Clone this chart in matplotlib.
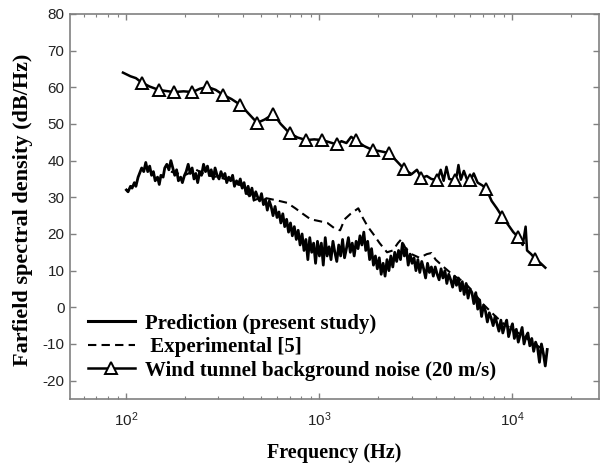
import numpy as np
import matplotlib
matplotlib.use("Agg")
import matplotlib.pyplot as plt
from matplotlib.lines import Line2D
from matplotlib.ticker import LogLocator, NullFormatter, MultipleLocator

plt.rcParams['font.family'] = ['Liberation Sans', 'DejaVu Sans']
plt.rcParams['mathtext.default'] = 'regular'
plt.rcParams['axes.unicode_minus'] = False

# prediction (present study)
pred_f = [100, 102, 105, 107, 110, 112, 115, 117, 120, 123,
          126, 129, 132, 135, 138, 141, 145, 148, 151, 155,
          158, 162, 166, 170, 174, 178, 182, 186, 191, 195,
          200, 204, 209, 214, 219, 224, 229, 234, 240, 245,
          251, 257, 263, 269, 275, 282, 288, 295, 302, 309,
          316, 324, 331, 339, 347, 355, 363, 372, 380, 389,
          398, 407, 417, 427, 437, 447, 457, 468, 479, 490,
          501, 513, 525, 537, 550, 562, 575, 589, 603, 617,
          631, 646, 661, 676, 692, 708, 724, 741, 759, 776,
          794, 813, 832, 851, 871, 891, 912, 933, 955, 977,
          1000, 1023, 1047, 1072, 1096, 1122, 1148, 1175, 1202, 1230,
          1259, 1288, 1318, 1349, 1380, 1413, 1445, 1479, 1514, 1549,
          1585, 1622, 1660, 1698, 1738, 1778, 1820, 1862, 1905, 1950,
          1995, 2042, 2089, 2138, 2188, 2239, 2291, 2344, 2399, 2455,
          2512, 2570, 2630, 2692, 2754, 2818, 2884, 2951, 3020, 3090,
          3162, 3236, 3311, 3388, 3467, 3548, 3631, 3715, 3802, 3890,
          3981, 4074, 4169, 4266, 4365, 4467, 4571, 4677, 4786, 4898,
          5012, 5129, 5248, 5370, 5495, 5623, 5754, 5888, 6026, 6166,
          6310, 6457, 6607, 6761, 6918, 7079, 7244, 7413, 7586, 7762,
          7943, 8128, 8318, 8511, 8710, 8913, 9120, 9333, 9550, 9772,
          10000, 10230, 10470, 10720, 10960, 11220, 11480, 11750, 12020, 12300,
          12590, 12880, 13180, 13490, 13800, 14130, 14450, 14790, 15140]
pred_db = [32, 31.5, 33, 32.5, 34, 33, 35.5, 36.5, 38, 37,
           39.5, 37, 38.5, 36, 37, 34.5, 35.5, 33.5, 36, 35.5,
           38, 39, 37.5, 40, 38, 36, 37.5, 34.5, 35.5, 34,
           36, 37, 39, 36.5, 38, 35, 36.5, 34, 37, 36,
           39, 37, 38.5, 36, 37.5, 35, 38, 36, 35, 37,
           35.5, 36.5, 34, 35.5, 34.5, 36, 33, 34.5, 33.5, 35,
           32.5, 34, 31, 33, 30.5, 32.5, 29.5, 31.5, 30, 29,
           31, 28, 29.5, 26.5, 29, 27.5, 25, 27.5, 24.5, 26,
           23, 25.5, 22, 24, 20.5, 23, 19.5, 22, 18.5, 21,
           17, 20, 15.5, 18.5, 13, 19, 15, 17.5, 12, 18,
           14, 17.5, 11.5, 19, 14, 16.5, 13, 18, 15, 12.5,
           17, 14, 18.5, 13.5, 16, 19, 15, 17.5, 14, 18,
           16, 19.5, 17, 20.5, 15.5, 18, 13, 16, 11.5, 14,
           10.5, 13.5, 9, 12, 8.5, 13, 10, 14, 11, 15,
           12.5, 15.5, 13, 17.5, 14, 16, 11.5, 14.5, 12, 13.5,
           10, 13, 9.5, 12.5, 10.5, 8, 12, 9.5, 11, 8.5,
           11, 9, 7.5, 10.5, 8, 10, 6.5, 9, 7.5, 5.5,
           8.5, 6, 8, 4.5, 7, 3.5, 6.5, 2.5, 5, 4,
           1, 4, -0.5, 2, -2.5, 0.5, -1, -4, -1.5, -3,
           -5, -2.5, -4.5, -6.5, -3.5, -7, -5, -3.5, -8, -6,
           -4.5, -8.5, -6, -9.5, -7.5, -5.5, -10, -8, -7, -10.5,
           -8.5, -12, -9.5, -11, -15, -10, -12.5, -16, -11.5]

# experimental [5]
exp_f = [170, 200, 230, 260, 300, 350, 400, 450, 500, 560, 620, 680, 750, 820, 900,
         1000, 1100, 1200, 1280, 1350, 1450, 1590, 1670, 1780, 1900, 2050, 2240, 2400,
         2550, 2650, 2800, 3000, 3300, 3600, 3800, 4000, 4400, 5000, 5600, 6300, 7000,
         8000, 9000, 10000, 11500, 13000, 15000]
exp_db = [37, 36, 37.5, 36, 35.5, 34.5, 33, 29, 30, 29.5, 29, 28.5, 27, 25.5, 24,
          23.5, 23, 21.5, 21, 24, 25.5, 27, 24.6, 22, 20, 17.5, 15, 15.5,
          17.5, 18.5, 16, 14.5, 13.5, 14.5, 14.8, 13, 11, 8.5, 7, 4, 1,
          -2, -4.5, -6, -8, -10, -12]

# wind tunnel background noise (20 m/s): line and marker points
wind_f = [96, 105, 112, 120, 132, 147, 160, 177, 198, 220, 240, 263, 290, 318, 350, 390,
          430, 476, 520, 578, 630, 700, 770, 857, 940, 1037, 1130, 1233, 1300, 1380,
          1460, 1538, 1700, 1884, 2050, 2280, 2500, 2757, 3000, 3200, 3373, 3600, 3800,
          4083, 4250, 4400, 4550, 4700, 5010, 5150, 5250, 5400, 5600, 5800, 6054, 6300,
          6600, 7000, 7330, 7800, 8300, 8870, 9500, 10100, 10700, 11300, 11700, 11900,
          12500, 13100, 14000, 14800]
wind_db = [64, 63, 62.5, 61.3, 60.2, 59.3, 59, 58.7, 58.9, 58.7, 59.6, 60.1, 59.3, 57.9,
           56.8, 55.2, 52.8, 50.3, 51.2, 52.7, 50, 47.5, 46.3, 45.6, 45.8, 45.6, 45, 44.4,
           45.3, 44.8, 46.5, 45.6, 44, 42.9, 42.6, 42.1, 40, 37.6, 36.3, 37.5, 35.3, 35.8,
           35, 34.7, 37.5, 34.5, 38.3, 35, 34.7, 36, 38.8, 34.8, 37.2, 35, 34.6, 36.5,
           34, 33.2, 32.2, 29, 27, 24.6, 22.5, 20.5, 19.2, 17, 22, 15.5,
           14.5, 13.2, 12, 10.8]
mark_f = [120, 147, 177, 220, 263, 318, 390, 476, 578, 700, 857, 1037, 1233, 1538,
          1884, 2280, 2757, 3373, 4083, 5010, 6054, 7330, 8870, 10700, 13100]
mark_db = [61.3, 59.3, 58.7, 58.7, 60.1, 57.9, 55.2, 50.3, 52.7, 47.5, 45.6, 45.6, 44.4,
           45.6, 42.9, 42.1, 37.6, 35.3, 34.7, 34.7, 34.6, 32.2, 24.6, 19.2, 13.2]

fig = plt.figure(figsize=(6.03, 4.65), dpi=100)
ax = fig.add_axes([0.116, 0.142, 0.877, 0.828])

ax.plot(wind_f, wind_db, color='black', lw=1.8, zorder=3)
ax.plot(mark_f, mark_db, ls='none', marker='^', ms=8.5, mfc='white', mec='black',
        mew=1.4, zorder=4)
ax.plot(exp_f, exp_db, color='black', lw=1.5, ls=(0, (4, 2.5)), zorder=2)
ax.plot(pred_f, pred_db, color='black', lw=2.0, zorder=3)

ax.set_xscale('log')
ax.set_xlim(51, 28000)
ax.set_ylim(-25, 80)
ax.yaxis.set_major_locator(MultipleLocator(10))
ax.xaxis.set_minor_locator(LogLocator(base=10, subs=np.arange(2, 10)))
ax.xaxis.set_minor_formatter(NullFormatter())

for s in ax.spines.values():
    s.set_color('#808080')
    s.set_linewidth(1.2)
ax.tick_params(which='both', direction='in', top=True, right=True, colors='#808080',
               labelcolor='#222222', labelsize=11)
ax.tick_params(which='major', length=4.5, width=1)
ax.tick_params(which='minor', length=2.5, width=0.8)
ax.tick_params(axis='x', pad=8)
ax.tick_params(axis='y', pad=4)

serif = ['Liberation Serif', 'DejaVu Serif']
ax.set_xlabel('Frequency (Hz)', family=serif, fontweight='bold', fontsize=14.5, labelpad=10)
ax.set_ylabel('Farfield spectral density (dB/Hz)', family=serif, fontweight='bold',
              fontsize=16)
ax.yaxis.set_label_coords(-0.07, 0.49)

handles = [
    Line2D([], [], color='black', lw=2.2),
    Line2D([], [], color='black', lw=1.5, ls=(0, (4, 2.5))),
    Line2D([], [], color='black', lw=1.8, marker='^', ms=8.5, mfc='white', mew=1.4),
]
labels = ['Prediction (present study)', ' Experimental [5]',
          'Wind tunnel background noise (20 m/s)']
ax.legend(handles, labels, loc='lower left', bbox_to_anchor=(0.018, 0.026), frameon=False,
          prop={'family': serif, 'weight': 'bold', 'size': 15}, handlelength=2.26,
          handletextpad=0.48, labelspacing=0.17, borderaxespad=0)

fig.savefig('out.png', dpi=100)
